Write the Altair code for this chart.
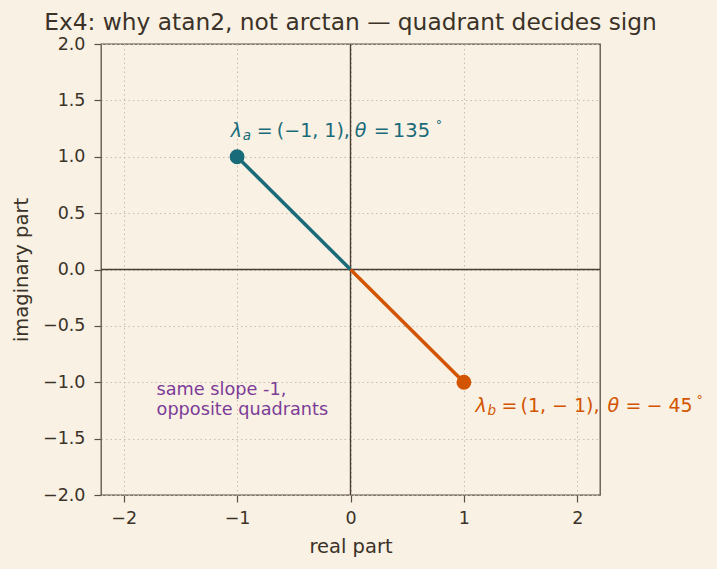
import altair as alt
import pandas as pd

# data
seg_x_a = [0, -1]
seg_y_a = [0, 1]
seg_x_b = [0, 1]
seg_y_b = [0, -1]
pt_x = [-1, 1]
pt_y = [1, -1]
pt_name = ["a", "b"]
x_ticks = [-2, -1, 0, 1, 2]
y_ticks = [-2.0, -1.5, -1.0, -0.5, 0.0, 0.5, 1.0, 1.5, 2.0]
note_lines = ["same slope -1,", "opposite quadrants"]
note_x = [-1.71, -1.71]
note_y = [-1.07, -1.25]

TEAL = "#1a6b7a"
ORANGE = "#d35400"
PURPLE = "#7d3c98"
BG = "#f9f1e3"
AX = "#5b5045"
TXT = "#3b3228"
FONT = "DejaVu Sans"

xs = alt.Scale(domain=[-2.2, 2.2], nice=False, zero=False)
ys = alt.Scale(domain=[-2, 2], nice=False, zero=False)

common = dict(grid=True, gridDash=[1.5, 3], gridColor="#c9bdac", gridWidth=1, domain=False,
              tickColor=AX, tickSize=7, tickWidth=1.2, labelFont=FONT, labelFontSize=17.5,
              labelColor=TXT, titleFont=FONT, titleFontSize=19.5, titleColor=TXT,
              titleFontWeight="normal",
              labelExpr="replace(datum.label, '-', '−')")
xaxis = alt.Axis(values=x_ticks, title="real part", format="d", titlePadding=11,
                 labelPadding=7, **common)
yaxis = alt.Axis(values=y_ticks, title="imaginary part", format=".1f", titlePadding=11,
                 labelPadding=9, **common)

base_df = pd.DataFrame({"x": [0], "y": [0]})

frame = alt.Chart(base_df).mark_point(opacity=0).encode(
    x=alt.X("x:Q", scale=xs, axis=xaxis),
    y=alt.Y("y:Q", scale=ys, axis=yaxis),
)

zero_v = alt.Chart(pd.DataFrame({"x": [0]})).mark_rule(color="#4a3f35", strokeWidth=1.4).encode(
    x=alt.X("x:Q", scale=xs))
zero_h = alt.Chart(pd.DataFrame({"y": [0]})).mark_rule(color="#4a3f35", strokeWidth=1.4).encode(
    y=alt.Y("y:Q", scale=ys))

line_a = alt.Chart(pd.DataFrame({"x": seg_x_a, "y": seg_y_a})).mark_line(
    color=TEAL, strokeWidth=3.5).encode(x=alt.X("x:Q", scale=xs), y=alt.Y("y:Q", scale=ys))
line_b = alt.Chart(pd.DataFrame({"x": seg_x_b, "y": seg_y_b})).mark_line(
    color=ORANGE, strokeWidth=3.5).encode(x=alt.X("x:Q", scale=xs), y=alt.Y("y:Q", scale=ys))

pts = alt.Chart(pd.DataFrame({"x": pt_x, "y": pt_y, "n": pt_name})).mark_circle(
    size=220, opacity=1).encode(
    x=alt.X("x:Q", scale=xs), y=alt.Y("y:Q", scale=ys),
    color=alt.Color("n:N", scale=alt.Scale(domain=["a", "b"], range=[TEAL, ORANGE]), legend=None))

# math labels as pieces: (text, dx, dy, size, style)
label_a_x, label_a_y = -1.055, 1.225
label_b_x, label_b_y = 1.102, -1.21
pieces_a = [("λ", 0, 0, 19, "italic"), ("a", 12, 5, 13.5, "italic"),
            ("=", 26, 0, 19, "normal"), ("(−1, 1),", 46, 0, 19, "normal"),
            ("θ", 124, 0, 19, "italic"), ("=", 143, 0, 19, "normal"),
            ("135", 162, 0, 19.5, "normal"), ("°", 205, -6, 12.5, "normal")]
pieces_b = [("λ", 0, 0, 19, "italic"), ("b", 12, 5, 13.5, "italic"),
            ("=", 26, 0, 19, "normal"), ("(1, − 1),", 45, 0, 19, "normal"),
            ("θ", 132, 0, 19, "italic"), ("=", 150, 0, 19, "normal"),
            ("− 45", 171, 0, 19, "normal"), ("°", 221, -6, 12.5, "normal")]

def label_layers(pieces, lx, ly, color):
    out = []
    for t, dx, dy, sz, st in pieces:
        out.append(alt.Chart(pd.DataFrame({"x": [lx], "y": [ly], "t": [t]})).mark_text(
            align="left", baseline="middle", dx=dx, dy=dy, fontSize=sz, fontStyle=st,
            font=FONT, color=color).encode(
            x=alt.X("x:Q", scale=xs), y=alt.Y("y:Q", scale=ys), text="t:N"))
    return out

note = alt.Chart(pd.DataFrame({"x": note_x, "y": note_y, "t": note_lines})).mark_text(
    align="left", baseline="middle", fontSize=17.7, font=FONT, color=PURPLE).encode(
    x=alt.X("x:Q", scale=xs), y=alt.Y("y:Q", scale=ys), text="t:N")

layers = [frame, zero_v, zero_h, line_a, line_b, pts] + \
    label_layers(pieces_a, label_a_x, label_a_y, TEAL) + \
    label_layers(pieces_b, label_b_x, label_b_y, ORANGE) + [note]

chart = alt.layer(*layers).properties(
    width=499, height=451,
    title=alt.TitleParams("Ex4: why atan2, not arctan — quadrant decides sign",
                          font=FONT, fontSize=23.3, fontWeight="normal", color=TXT,
                          anchor="middle", offset=0),
    autosize=alt.AutoSizeParams(type="none"),
    padding={"left": 101, "top": 44, "right": 117, "bottom": 74},
    background=BG,
).configure_view(stroke=AX, strokeWidth=1.3, fill=BG)

chart.save("out.html", embed_options={"renderer": "svg", "actions": False})
